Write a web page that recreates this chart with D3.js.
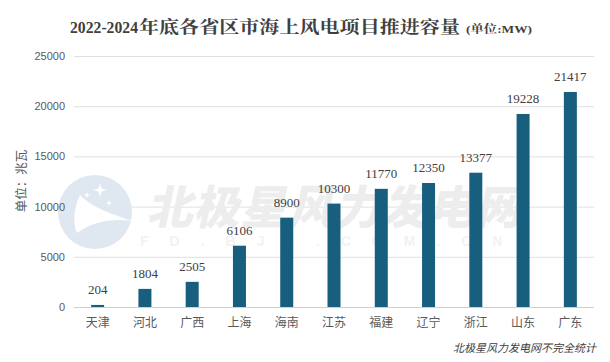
<!doctype html>
<html>

<head>
    <meta charset="utf-8">
    <title>海上风电项目推进容量</title>
    <style>
        body { margin: 0; background: #ffffff; }
    </style>
</head>

<body>
    <script src="https://d3js.org/d3.v7.min.js"></script>
    <script>
    // data
    var provinces = ["天津", "河北", "广西", "上海", "海南", "江苏", "福建", "辽宁", "浙江", "山东", "广东"];
    var capacity = [204, 1804, 2505, 6106, 8900, 10300, 11770, 12350, 13377, 19228, 21417];
    var yTicks = [0, 5000, 10000, 15000, 20000, 25000];

    var width = 610, height = 362;
    var margin = { top: 56, right: 16, bottom: 55, left: 74 };

    var svg = d3.select("body")
        .append("svg")
        .attr("width", width)
        .attr("height", height)
        .style("font-family", "'Liberation Sans', 'Noto Sans CJK SC', sans-serif");

    var x = d3.scaleBand()
        .domain(provinces)
        .range([margin.left, width - margin.right]);

    var y = d3.scaleLinear()
        .domain([0, 25000])
        .range([height - margin.bottom, margin.top]);

    // title - widths pinned to the reference
    var title = svg.append("text")
        .attr("y", 33)
        .attr("fill", "#404040")
        .style("font-family", "'Liberation Serif', 'Noto Serif CJK SC', 'Noto Sans CJK SC', serif")
        .style("font-weight", "bold")
        .style("font-size", "17px");
    title.append("tspan")
        .attr("x", 70)
        .attr("textLength", 68)
        .attr("lengthAdjust", "spacingAndGlyphs")
        .text("2022-2024");
    title.append("tspan")
        .attr("x", 139)
        .attr("textLength", 321)
        .attr("lengthAdjust", "spacingAndGlyphs")
        .text("年底各省区市海上风电项目推进容量");
    title.append("tspan")
        .attr("x", 466)
        .attr("textLength", 66)
        .attr("lengthAdjust", "spacingAndGlyphs")
        .style("font-size", "11px")
        .text("(单位:MW)");

    // gridlines
    svg.append("g")
        .selectAll("line")
        .data(yTicks)
        .join("line")
        .attr("x1", margin.left)
        .attr("x2", width - margin.right)
        .attr("y1", d => y(d) + 0.5)
        .attr("y2", d => y(d) + 0.5)
        .attr("stroke", d => d === 0 ? "#d0d0d0" : "#e0e0e0")
        .attr("stroke-width", 1);

    // watermark (behind bars)
    var wm = svg.append("g");
    wm.append("circle")
        .attr("cx", 95)
        .attr("cy", 212)
        .attr("r", 37)
        .attr("fill", "#dfe8f1");
    wm.append("path")
        .attr("d", "M80,195 C72,212 74,226 77,233 C92,222 112,218 132,221 C112,214 92,208 80,195 Z")
        .attr("fill", "#ffffff");
    [[100, 190, 7], [87, 195, 3.5], [109, 203, 3.5], [90, 206, 2]].forEach(function (s) {
        var cx = s[0], cy = s[1], r = s[2], k = r * 0.22;
        wm.append("path")
            .attr("d", "M" + cx + "," + (cy - r) + " L" + (cx + k) + "," + (cy - k) +
                " L" + (cx + r) + "," + cy + " L" + (cx + k) + "," + (cy + k) +
                " L" + cx + "," + (cy + r) + " L" + (cx - k) + "," + (cy + k) +
                " L" + (cx - r) + "," + cy + " L" + (cx - k) + "," + (cy - k) + " Z")
            .attr("fill", "#ffffff");
    });
    wm.append("text")
        .attr("x", 336)
        .attr("y", 224)
        .attr("text-anchor", "middle")
        .attr("fill", "#ededed")
        .attr("transform", "skewX(-12) translate(46,0)")
        .style("font-family", "'Noto Sans CJK SC', sans-serif")
        .style("font-weight", "900")
        .style("font-size", "46px")
        .style("letter-spacing", "1px")
        .text("北极星风力发电网");
    wm.append("text")
        .attr("x", 140)
        .attr("y", 246)
        .attr("fill", "#f2f2f2")
        .style("font-family", "'Liberation Sans', sans-serif")
        .style("font-weight", "bold")
        .style("font-size", "14px")
        .style("letter-spacing", "21px")
        .text("FD.BJX.COM.CN");

    // bars
    var barW = 13;
    svg.append("g")
        .selectAll("rect")
        .data(capacity)
        .join("rect")
        .attr("x", (d, i) => x(provinces[i]) + x.bandwidth() / 2 - barW / 2)
        .attr("y", d => y(d))
        .attr("width", barW)
        .attr("height", d => y(0) - y(d))
        .attr("fill", "#175e7f");

    // value labels
    svg.append("g")
        .selectAll("text")
        .data(capacity)
        .join("text")
        .attr("x", (d, i) => x(provinces[i]) + x.bandwidth() / 2)
        .attr("y", d => y(d) - 11)
        .attr("text-anchor", "middle")
        .attr("fill", "#404040")
        .style("font-family", "'Liberation Serif', serif")
        .style("font-size", "13px")
        .text(d => d);

    // y axis tick labels
    svg.append("g")
        .selectAll("text")
        .data(yTicks)
        .join("text")
        .attr("x", 65)
        .attr("y", d => y(d) + 4)
        .attr("text-anchor", "end")
        .attr("fill", "#595959")
        .style("font-size", "11px")
        .text(d => d);

    // x axis labels
    svg.append("g")
        .selectAll("text")
        .data(provinces)
        .join("text")
        .attr("x", d => x(d) + x.bandwidth() / 2)
        .attr("y", 327)
        .attr("text-anchor", "middle")
        .attr("fill", "#595959")
        .style("font-family", "'Noto Sans CJK SC', sans-serif")
        .style("font-size", "12px")
        .text(d => d);

    // y axis title
    svg.append("text")
        .attr("transform", "translate(26,181) rotate(-90)")
        .attr("text-anchor", "middle")
        .attr("fill", "#595959")
        .style("font-family", "'Noto Sans CJK SC', sans-serif")
        .style("font-size", "12.5px")
        .text("单位：兆瓦");

    // source note
    svg.append("text")
        .attr("x", 596)
        .attr("y", 352)
        .attr("text-anchor", "end")
        .attr("fill", "#404040")
        .style("font-family", "'Noto Sans CJK SC', sans-serif")
        .style("font-style", "italic")
        .style("font-size", "11px")
        .text("北极星风力发电网不完全统计");
    </script>
</body>

</html>
